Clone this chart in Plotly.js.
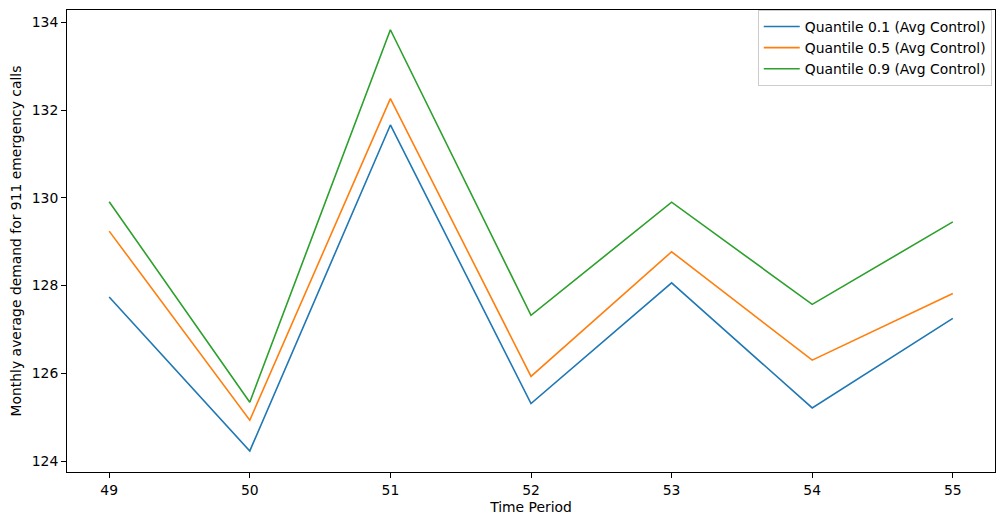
<!DOCTYPE html>
<html>
<head>
<meta charset="utf-8">
<script src="https://cdn.plot.ly/plotly-3.0.1.min.js"></script>
<style>html,body{margin:0;padding:0;background:#fff}#chart{width:1005px;height:525px}</style>
</head>
<body>
<div id="chart"></div>
<script>
const periods = [49, 50, 51, 52, 53, 54, 55];
const q01 = [127.74, 124.23, 131.66, 125.31, 128.06, 125.21, 127.25];
const q05 = [129.24, 124.93, 132.26, 125.93, 128.77, 126.30, 127.82];
const q09 = [129.91, 125.34, 133.83, 127.32, 129.90, 127.57, 129.45];
const seriesNames = ["Quantile 0.1 (Avg Control)", "Quantile 0.5 (Avg Control)", "Quantile 0.9 (Avg Control)"];
const colors = ["#1f77b4", "#ff7f0e", "#2ca02c"];
const allSeries = [q01, q05, q09];

const traces = allSeries.map((ys, i) => ({
  x: periods, y: ys, type: "scatter", mode: "lines",
  name: seriesNames[i], line: {color: colors[i], width: 1.6}
}));

const font = {family: "DejaVu Sans, sans-serif", size: 13.9, color: "#000"};
const layout = {
  width: 1005, height: 525,
  margin: {l: 67, r: 10, t: 10, b: 53},
  paper_bgcolor: "#fff", plot_bgcolor: "#fff",
  font: font,
  showlegend: true,
  xaxis: {
    range: [48.7, 55.3], tickmode: "array", tickvals: periods,
    ticks: "outside", ticklen: 5, tickcolor: "#000", showgrid: false, zeroline: false,
    showline: true, linecolor: "#000", linewidth: 1, mirror: true,
    tickfont: font,
    title: {text: "Time Period", font: font, standoff: 5}
  },
  yaxis: {
    range: [123.75, 134.28], tickmode: "array", tickvals: [124, 126, 128, 130, 132, 134],
    ticks: "outside", ticklen: 5, tickcolor: "#000", showgrid: false, zeroline: false,
    showline: true, linecolor: "#000", linewidth: 1, mirror: true,
    tickfont: font,
    title: {text: "Monthly average demand for 911 emergency calls", font: font, standoff: 6}
  },
  legend: {
    x: 0.9965, y: 1.0, xanchor: "right", yanchor: "top",
    bgcolor: "rgba(255,255,255,0.8)", bordercolor: "#cccccc", borderwidth: 1,
    font: font, tracegroupgap: 0, itemwidth: 36
  }
};
Plotly.newPlot("chart", traces, layout, {displayModeBar: false, staticPlot: true});
</script>
</body>
</html>
